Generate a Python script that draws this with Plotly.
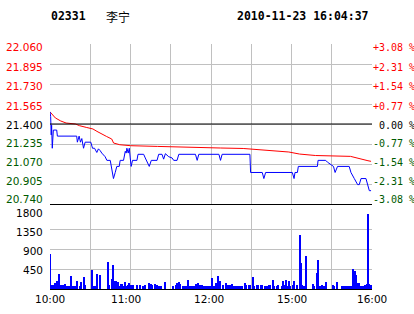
import plotly.graph_objects as go

# ---------------- data ----------------
stock_code = "02331"
stock_name = "李宁"
timestamp = "2010-11-23 16:04:37"
prev_close = 21.400

price_ticks = [20.740, 20.905, 21.070, 21.235, 21.400, 21.565, 21.730, 21.895, 22.060]
pct_labels = ["-3.08 %", "-2.31 %", "-1.54 %", "-0.77 %", " 0.00 %",
              "+0.77 %", "+1.54 %", "+2.31 %", "+3.08 %"]
vol_ticks = [0, 450, 900, 1350, 1800]
grid_min = [0, 30, 60, 90, 120, 150, 180, 210, 240]
time_lbl_min = [0, 60, 120, 180, 240]
time_lbl = ["10:00", "11:00", "12:00", "15:00", "16:00"]

# price line (trading minute, price)
price_t = [0, 0.5, 0.9, 1.2, 1.7, 2.5, 5, 5.5, 19.9, 20.4, 21.7, 22.7, 23.7, 25, 26.2,
           30.4, 31.7, 33.2, 34.9, 36.1, 37.4, 38.6, 41.1, 42.4, 44.9, 45.6, 46.6,
           47.3, 48.6, 49.8, 51.6, 52.3, 54.8, 55.6, 56.1, 56.8, 57.3, 58.3, 59.1,
           59.8, 60.5, 61.5, 64.8, 65.6, 69.8, 71.0, 72.3, 74.0, 75.5, 79.8, 81.0,
           83.5, 84.7, 86.0, 88.5, 91.0, 92.2, 94.7, 96.0, 108.4, 109.7, 110.9,
           125.9, 127.1, 128.3, 149.0, 149.5, 158.2, 159.4, 160.7, 180.6, 181.9,
           182.6, 184.4, 185.1, 199.3, 199.8, 205.5, 206.8, 209.3, 211.3, 212.5,
           214.3, 223.0, 224.3, 226.8, 229.3, 230.5, 231.8, 235.5, 236.8, 238.0, 239.3]
price_v = [21.50, 21.46, 21.31, 21.39, 21.20, 21.35, 21.35, 21.30, 21.30, 21.25, 21.30,
           21.25, 21.28, 21.20, 21.25, 21.25, 21.20, 21.20, 21.165, 21.195, 21.18,
           21.16, 21.13, 21.10, 21.10, 21.05, 20.98, 20.95, 21.00, 21.05, 21.05,
           21.10, 21.10, 21.15, 21.175, 21.16, 21.20, 21.16, 21.20, 21.12, 21.05,
           21.10, 21.10, 21.15, 21.15, 21.12, 21.09, 21.05, 21.10, 21.10, 21.15,
           21.15, 21.11, 21.155, 21.13, 21.12, 21.10, 21.10, 21.15, 21.15, 21.10,
           21.15, 21.15, 21.10, 21.15, 21.15, 21.00, 21.00, 20.95, 21.00, 21.00,
           20.95, 21.00, 21.00, 21.05, 21.05, 21.10, 21.10, 21.085, 21.065, 21.05,
           21.00, 21.05, 21.05, 21.00, 20.95, 20.90, 20.90, 20.95, 20.95, 20.885,
           20.85, 20.85]

# average price line
avg_t = [0, 4, 8, 12, 19, 22, 27, 32, 35, 37, 42, 46, 47.4, 52, 60, 80, 112, 127,
         144, 156, 171, 178, 186, 198, 224, 228, 237, 239.3]
avg_v = [21.50, 21.45, 21.425, 21.408, 21.400, 21.386, 21.372, 21.359, 21.339,
         21.326, 21.298, 21.276, 21.243, 21.229, 21.221, 21.215, 21.210, 21.202,
         21.198, 21.188, 21.180, 21.169, 21.152, 21.140, 21.133, 21.120, 21.097, 21.092]

# volume bars (trading minute, volume)
vol_min = [0, 1, 2, 3, 4, 5, 6, 7, 8, 9, 10, 11, 13, 14, 16, 17, 18, 19, 20, 22, 23,
           25, 26, 31, 32, 33, 34, 35, 37, 43, 44, 46, 47, 48, 49, 50, 51, 52, 53,
           54, 55, 56, 57, 58, 59, 60, 61, 62, 65, 67, 69, 71, 74, 75, 76, 78, 79,
           80, 81, 82, 83, 86, 92, 94, 95, 96, 97, 99, 100, 101, 103, 104, 105, 106,
           107, 109, 110, 111, 112, 113, 115, 116, 117, 118, 119, 121, 122, 124, 125,
           126, 127, 129, 131, 132, 133, 134, 136, 137, 139, 140, 141, 142, 143, 145,
           146, 148, 149, 151, 152, 154, 155, 157, 158, 160, 161, 162, 163, 164, 166,
           167, 169, 170, 173, 174, 175, 176, 177, 178, 179, 181, 182, 184, 186, 187,
           188, 189, 191, 196, 197, 199, 200, 201, 203, 204, 206, 211, 212, 214, 218,
           219, 220, 221, 222, 223, 224, 225, 226, 227, 228, 229, 230, 232, 233, 234,
           235, 236, 237, 238, 239]
vol_val = [795, 98, 98, 98, 128, 188, 98, 345, 83, 83, 83, 120, 75, 75, 285, 75, 75,
           75, 173, 75, 150, 263, 98, 435, 75, 75, 75, 345, 308, 615, 98, 233, 533,
           173, 188, 75, 158, 75, 120, 120, 75, 165, 75, 98, 135, 83, 83, 83, 90, 90,
           75, 90, 143, 113, 98, 105, 75, 98, 75, 75, 75, 165, 75, 90, 128, 165, 120,
           75, 75, 75, 210, 75, 75, 75, 75, 113, 135, 83, 83, 83, 75, 75, 75, 75, 75,
           255, 75, 135, 300, 75, 188, 98, 143, 98, 90, 90, 113, 75, 75, 75, 75, 75,
           75, 135, 98, 83, 83, 263, 75, 90, 98, 90, 90, 74, 74, 74, 89, 89, 209, 74,
           74, 97, 74, 187, 97, 202, 74, 187, 74, 89, 187, 89, 1222, 584, 82, 74, 734,
           119, 74, 367, 659, 74, 97, 67, 164, 97, 74, 164, 74, 74, 74, 74, 74, 74, 74,
           74, 457, 412, 307, 142, 142, 74, 74, 74, 97, 119, 1694, 112, 89]

# ---------------- styling ----------------
RED = "#ff0000"
GREEN = "#005a00"
GRID = "#c0c0c0"
# label pixel nudges (the original packs its labels slightly inside the grid)
price_lbl_shift = [5, 3, 2, 1, -1, -2, -2, -3, -3]
vol_lbl_shift = [0, -1, -2, -3, -4]
time_lbl_shift = [0, -5, -2, 0, 0]


def col_for(v):
    if abs(v - prev_close) < 1e-9:
        return "#000000"
    return RED if v > prev_close else GREEN


fig = go.Figure()
fig.add_trace(go.Scatter(x=avg_t, y=avg_v, mode="lines", line=dict(color=RED, width=1),
                         xaxis="x", yaxis="y", hoverinfo="skip"))
fig.add_trace(go.Scatter(x=price_t, y=price_v, mode="lines", line=dict(color="#0000ff", width=1),
                         xaxis="x", yaxis="y", hoverinfo="skip"))
fig.add_trace(go.Bar(x=vol_min, y=vol_val, width=0.75, marker=dict(color="#0000ff", line=dict(width=0)),
                     xaxis="x2", yaxis="y2", hoverinfo="skip"))

W, H = 414, 314
L, R, T, B = 50, 42, 44, 25
plot_h = H - T - B
base_px = H - B
price_dom0 = (base_px - 204) / plot_h
vol_dom1 = (base_px - 209) / plot_h

common_x = dict(range=[0, 240], tickmode="array", tickvals=grid_min, showticklabels=False,
                ticks="", showgrid=True, gridcolor=GRID, gridwidth=1, zeroline=False,
                showline=True, linecolor="black", linewidth=1, automargin=False, fixedrange=True)

fig.update_layout(
    width=W, height=H,
    margin=dict(l=L, r=R, t=T, b=B, pad=0, autoexpand=False),
    paper_bgcolor="white", plot_bgcolor="white",
    showlegend=False,
    bargap=0,
    font=dict(family="DejaVu Sans", size=10.5, color="black"),
    xaxis=dict(domain=[0, 1], anchor="y", **common_x),
    xaxis2=dict(domain=[0, 1], anchor="y2", **common_x),
    yaxis=dict(domain=[price_dom0, 1], anchor="x", range=[price_ticks[0], price_ticks[-1]],
               tickmode="array", tickvals=price_ticks, showticklabels=False, ticks="",
               showgrid=True, gridcolor=GRID, gridwidth=1, zeroline=False, automargin=False),
    yaxis2=dict(domain=[0, vol_dom1], anchor="x2", range=[vol_ticks[0], vol_ticks[-1]],
                tickmode="array", tickvals=vol_ticks, showticklabels=False, ticks="",
                showgrid=True, gridcolor=GRID, gridwidth=1, zeroline=False, automargin=False),
)

# previous close reference line
fig.add_shape(type="line", xref="x domain", yref="y", x0=0, x1=1, y0=prev_close, y1=prev_close,
              line=dict(color="black", width=1), layer="above")

# left price labels and right percentage labels
for v, pct, sh in zip(price_ticks, pct_labels, price_lbl_shift):
    c = col_for(v)
    fig.add_annotation(text=f"{v:.3f}", xref="paper", yref="y", x=0, y=v, xanchor="right",
                       yanchor="middle", xshift=-5, yshift=sh, showarrow=False,
                       font=dict(family="DejaVu Sans", size=10.5, color=c))
    fig.add_annotation(text=pct.replace(" ", "&nbsp;"), xref="paper", yref="y", x=1, y=v,
                       xanchor="left", yanchor="middle", xshift=-1, yshift=sh, showarrow=False,
                       font=dict(family="DejaVu Sans Mono", size=10, color=c))

# volume labels
for v, sh in zip(vol_ticks, vol_lbl_shift):
    if v == 0:
        continue
    fig.add_annotation(text=str(v), xref="paper", yref="y2", x=0, y=v, xanchor="right",
                       yanchor="middle", xshift=-5, yshift=sh, showarrow=False,
                       font=dict(family="DejaVu Sans", size=10.5, color="black"))

# time labels
for m, t, sh in zip(time_lbl_min, time_lbl, time_lbl_shift):
    fig.add_annotation(text=t, xref="x2", yref="paper", x=m, y=0, xanchor="center",
                       yanchor="top", xshift=sh, yshift=-2, showarrow=False,
                       font=dict(family="DejaVu Sans", size=10.5, color="black"))

# header
hdr_y = (base_px - 16.5) / plot_h
fig.add_annotation(text=f"<b>{stock_code}</b>", xref="paper", yref="paper", x=0, y=hdr_y,
                   xanchor="left", yanchor="middle", showarrow=False, xshift=-1,
                   font=dict(family="DejaVu Sans Mono", size=11.5, color="black"))
fig.add_annotation(text=stock_name, xref="paper", yref="paper", x=(104 - L) / (W - L - R), y=hdr_y,
                   xanchor="left", yanchor="middle", showarrow=False,
                   font=dict(family="Noto Sans CJK SC", size=12, color="black"))
fig.add_annotation(text=f"<b>{timestamp}</b>", xref="paper", yref="paper", x=(371 - L) / (W - L - R),
                   y=hdr_y, xanchor="right", yanchor="middle", showarrow=False,
                   font=dict(family="DejaVu Sans Mono", size=11.5, color="black"))

fig.write_html("out.html")
